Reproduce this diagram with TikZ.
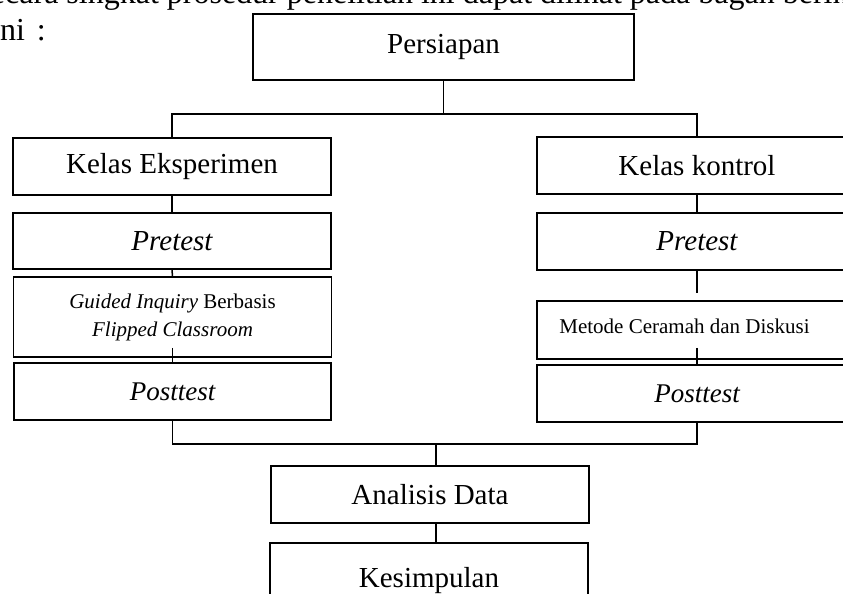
\documentclass[tikz,border=0pt]{standalone}
\usepackage{fontspec}
\setmainfont{Liberation Serif}
\usetikzlibrary{calc}
\tikzset{
  box/.style={draw=black, line width=1.8pt, rectangle, inner sep=0pt, align=center},
  big/.style={font=\fontsize{29}{33}\selectfont},
  mid/.style={font=\fontsize{27}{31}\selectfont},
  small/.style={font=\fontsize{21}{28}\selectfont},
  conn/.style={draw=black, line width=1.5pt},
  body/.style={font=\fontsize{32}{36}\selectfont, inner sep=0pt}
}
\begin{document}
\begin{tikzpicture}[x=1pt,y=1pt]
\path[use as bounding box] (0,0) rectangle (843,-594);
\clip (0,0) rectangle (843,-594);
% body text
\node[body, anchor=base west] (line1) at (-27,-4) {Secara singkat prosedur penelitian ini dapat dilihat pada bagan berikut};
\node[body, anchor=base west] (line2) at (-9,-41) {ini\hspace{12pt}:};
% boxes
\node[box, big, minimum width=381, minimum height=66] (persiapan) at (443.5,-47) {\raisebox{-2pt}{Persiapan}};
\node[box, big, minimum width=318, minimum height=57] (ke) at (172,-166.5) {\raisebox{-2pt}{Kelas Eksperimen}};
\node[box, big, minimum width=318, minimum height=56] (preL) at (172,-241) {\itshape Pretest};
\node[box, small, minimum width=318, minimum height=80] (guided) at (172.5,-317) {\itshape Guided Inquiry\upshape{} Berbasis\\ \itshape Flipped Classroom};
\node[box, mid, minimum width=317, minimum height=57] (postL) at (172.5,-391.5) {\itshape Posttest};
\node[box, big, minimum width=320, minimum height=57] (kk) at (697,-165.5) {Kelas kontrol};
\node[box, big, minimum width=320, minimum height=57] (preR) at (697,-241.5) {\itshape Pretest};
\node[box, small, minimum width=320, minimum height=58] (metode) at (697,-330) {\raisebox{7pt}{Metode Ceramah dan Diskusi}\hspace{25pt}};
\node[box, mid, minimum width=320, minimum height=57] (postR) at (697,-393.5) {\itshape Posttest};
\node[box, big, minimum width=318, minimum height=57] (analisis) at (430,-494.5) {Analisis Data};
\node[box, big, minimum width=318, minimum height=76] (kesimpulan) at (429,-581) {\raisebox{-10pt}{Kesimpulan}};
% connectors
\coordinate (topbar) at (443.5,-114);
\coordinate (botbar) at (436,-444);
\coordinate (stub) at (697,-293);
\draw[conn] (persiapan.south) -- (topbar);
\draw[conn] (ke.north) |- (topbar) -| (kk.north);
\draw[conn] (ke.south) -- (preL.north);
\draw[conn] (preL.south) -- (guided.north);
\draw[conn] ($(guided.south)+(0,10)$) -- (postL.north);
\draw[conn] (kk.south) -- (preR.north);
\draw[conn] (preR.south) -- (stub);
\draw[conn] ($(metode.south)+(0,12)$) -- (postR.north);
\draw[conn] (postL.south) |- (botbar) -| (postR.south);
\draw[conn] (botbar) -- (botbar |- analisis.north);
\draw[conn] (botbar |- analisis.south) -- (botbar |- kesimpulan.north);
\end{tikzpicture}
\end{document}
